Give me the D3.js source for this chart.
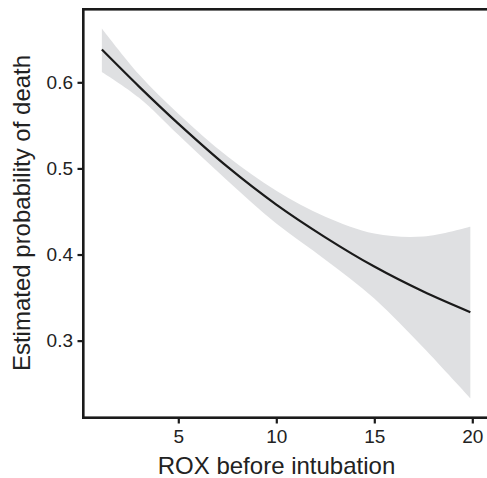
<!DOCTYPE html>
<html>
<head>
<meta charset="utf-8">
<script src="https://cdn.jsdelivr.net/npm/d3@7"></script>
<style>
  html, body { margin: 0; padding: 0; background: #fff; }
  svg text { font-family: "Liberation Sans", Arial, sans-serif; fill: #222; }
</style>
</head>
<body>
<div id="chart"></div>
<script>
// ROX values along the fitted curve
const roxValues = [1.1, 3, 5, 7.5, 10, 12.5, 15, 17.5, 19.9];
// estimated probability of death (fit)
const fitValues = [0.638, 0.595, 0.552, 0.502, 0.458, 0.420, 0.386, 0.357, 0.333];
// confidence band
const upperValues = [0.6625, 0.609, 0.5635, 0.514, 0.474, 0.444, 0.4245, 0.421, 0.4323];
const lowerValues = [0.612, 0.582, 0.539, 0.486, 0.436, 0.394, 0.349, 0.292, 0.233];
const xTicks = [5, 10, 15, 20];
const yTicks = [0.3, 0.4, 0.5, 0.6];

const width = 487, height = 478;
const panel = { left: 83.3, top: 9.3, bottom: 417.7 };

const svg = d3.select("#chart").append("svg")
    .attr("width", width)
    .attr("height", height);

const x = d3.scaleLinear().domain([0, 20]).range([80.3, 472.3]);
const y = d3.scaleLinear().domain([0.2105, 0.6848]).range([panel.bottom, panel.top]);

const rows = roxValues.map((r, i) => ({
    x: r, fit: fitValues[i], lo: lowerValues[i], hi: upperValues[i]
}));

// band
svg.append("path")
    .datum(rows)
    .attr("fill", "#dfe0e2")
    .attr("d", d3.area()
        .curve(d3.curveCatmullRom)
        .x(d => x(d.x))
        .y0(d => y(d.lo))
        .y1(d => y(d.hi)));

// fitted line
svg.append("path")
    .datum(rows)
    .attr("fill", "none")
    .attr("stroke", "#1a1a1a")
    .attr("stroke-width", 2.2)
    .attr("d", d3.line()
        .curve(d3.curveCatmullRom)
        .x(d => x(d.x))
        .y(d => y(d.fit)));

// panel border (right side runs off the canvas)
svg.append("rect")
    .attr("x", panel.left)
    .attr("y", panel.top)
    .attr("width", 430)
    .attr("height", panel.bottom - panel.top)
    .attr("fill", "none")
    .attr("stroke", "#1a1a1a")
    .attr("stroke-width", 2.6);

// x axis
const xAxis = svg.append("g")
    .attr("transform", `translate(0,${panel.bottom})`)
    .call(d3.axisBottom(x).tickValues(xTicks).tickSize(5.8).tickSizeOuter(0).tickPadding(6));
xAxis.select(".domain").remove();
xAxis.selectAll(".tick line").attr("stroke", "#1a1a1a").attr("stroke-width", 2.2);
xAxis.selectAll(".tick text")
    .style("font-size", "19px")
    .attr("fill", "#222");

// y axis
const yAxis = svg.append("g")
    .attr("transform", `translate(${panel.left},0)`)
    .call(d3.axisLeft(y).tickValues(yTicks).tickFormat(d3.format(".1f")).tickSize(5.8).tickSizeOuter(0).tickPadding(4.5));
yAxis.select(".domain").remove();
yAxis.selectAll(".tick line").attr("stroke", "#1a1a1a").attr("stroke-width", 2.2);
yAxis.selectAll(".tick text")
    .style("font-size", "19px")
    .attr("fill", "#222");

// titles
svg.append("text")
    .attr("x", 276.5)
    .attr("y", 474)
    .attr("text-anchor", "middle")
    .style("font-size", "24px")
    .text("ROX before intubation");

svg.append("text")
    .attr("transform", "translate(30,213) rotate(-90)")
    .attr("text-anchor", "middle")
    .style("font-size", "24px")
    .text("Estimated probability of death");
</script>
</body>
</html>
